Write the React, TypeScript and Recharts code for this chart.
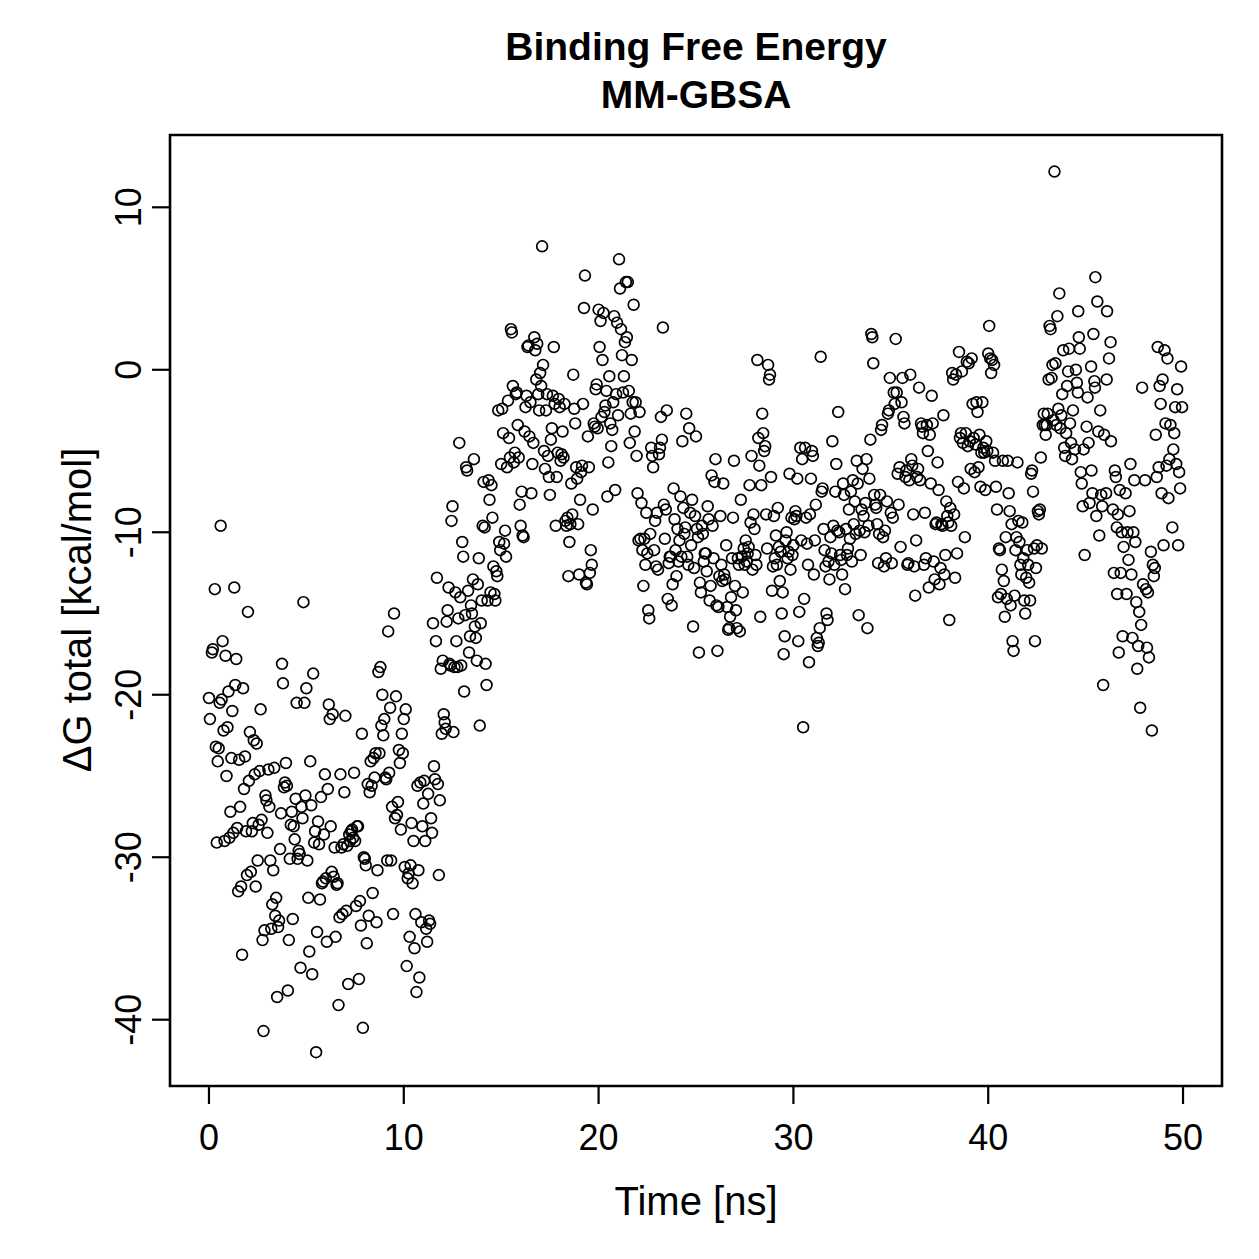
import React from 'react';
import { ScatterChart, Scatter, XAxis, YAxis, ReferenceArea } from 'recharts';

// Time [ns], ΔG total [kcal/mol]
const seg0to10: [number, number][] = [
[0,-20.2],[0.05,-21.5],[0.15,-17.4],[0.2,-17.2],[0.3,-13.5],[0.35,-23.2],[0.4,-29.1],[0.45,-24.1],[0.5,-23.3],[0.55,-20.5],[0.6,-9.6],[0.65,-20.3],[0.7,-16.7],[0.75,-22.2],[0.8,-29.0],[0.85,-17.6],[0.9,-25.0],[0.95,-22.0],
[1.0,-19.8],[1.05,-28.8],[1.1,-27.2],[1.15,-23.9],[1.2,-21.0],[1.25,-28.5],[1.3,-13.4],[1.35,-19.4],[1.4,-17.8],[1.45,-28.2],[1.5,-32.1],[1.55,-24.0],[1.6,-26.9],[1.65,-31.8],[1.7,-36.0],[1.75,-19.6],[1.8,-25.8],[1.85,-23.8],[1.9,-28.4],[1.95,-31.1],
[2.0,-14.9],[2.05,-25.3],[2.1,-22.3],[2.15,-30.9],[2.2,-28.4],[2.25,-27.9],[2.3,-22.8],[2.35,-24.9],[2.4,-31.8],[2.45,-23.0],[2.5,-30.2],[2.55,-28.0],[2.6,-24.7],[2.65,-20.9],[2.7,-27.7],[2.75,-35.1],[2.8,-40.7],[2.85,-34.5],[2.9,-26.2],[2.95,-26.5],
[3.0,-28.5],[3.05,-24.6],[3.1,-26.9],[3.15,-30.2],[3.2,-34.4],[3.25,-32.9],[3.3,-30.8],[3.35,-24.5],[3.4,-33.6],[3.45,-32.5],[3.5,-38.6],[3.55,-34.3],[3.6,-33.9],[3.65,-29.5],[3.7,-27.3],[3.75,-18.1],[3.8,-19.3],[3.85,-25.7],[3.9,-25.4],[3.95,-24.2],
[4.0,-25.6],[4.05,-38.2],[4.1,-35.1],[4.15,-30.1],[4.2,-28.0],[4.25,-27.2],[4.3,-33.8],[4.35,-28.1],[4.4,-28.9],[4.45,-26.4],[4.5,-20.5],[4.55,-30.1],[4.6,-29.6],[4.65,-29.8],[4.7,-36.8],[4.75,-26.9],[4.8,-27.6],[4.85,-14.3],[4.9,-20.5],[4.95,-26.2],
[5.0,-19.6],[5.05,-30.2],[5.1,-32.5],[5.15,-35.8],[5.2,-24.1],[5.25,-26.8],[5.3,-37.2],[5.35,-18.7],[5.4,-29.1],[5.45,-28.4],[5.5,-42.0],[5.55,-34.6],[5.6,-27.8],[5.65,-29.2],[5.7,-32.6],[5.75,-26.3],[5.8,-31.6],[5.85,-31.5],[5.9,-28.6],[5.95,-24.9],
[6.0,-31.3],[6.05,-35.2],[6.1,-25.8],[6.15,-20.6],[6.2,-21.5],[6.25,-28.1],[6.3,-30.9],[6.35,-21.2],[6.4,-31.2],[6.45,-29.4],[6.5,-34.9],[6.55,-31.7],[6.6,-31.6],[6.65,-39.1],[6.7,-33.7],[6.75,-24.9],[6.8,-29.4],[6.85,-33.5],[6.9,-29.2],[6.95,-26.0],
[7.0,-21.3],[7.05,-33.3],[7.1,-29.3],[7.15,-37.8],[7.2,-28.6],[7.25,-29.0],[7.3,-28.4],[7.35,-28.3],[7.4,-28.8],[7.45,-24.8],[7.5,-29.0],[7.55,-33.0],[7.6,-28.1],[7.65,-28.1],[7.7,-37.5],[7.75,-32.7],[7.8,-34.2],[7.85,-22.4],[7.9,-40.5],[7.95,-30.0],
[8.0,-30.1],[8.05,-30.5],[8.1,-35.3],[8.15,-25.5],[8.2,-33.6],[8.25,-26.0],[8.3,-24.1],[8.35,-25.6],[8.4,-32.2],[8.45,-23.9],[8.5,-25.1],[8.55,-23.6],[8.6,-34.0],[8.65,-30.8],[8.7,-18.6],[8.75,-23.6],[8.8,-18.3],[8.85,-21.9],[8.9,-20.0],[8.95,-22.5],
[9.0,-21.5],[9.05,-25.1],[9.1,-25.2],[9.15,-30.2],[9.2,-16.1],[9.25,-24.8],[9.3,-20.8],[9.35,-30.2],[9.4,-26.9],[9.45,-33.5],[9.5,-15.0],[9.55,-27.6],[9.6,-20.1],[9.65,-27.4],[9.7,-26.6],[9.75,-23.4],[9.8,-24.2],[9.85,-28.3],[9.9,-22.4],[9.95,-23.6],
];

const seg10to20: [number, number][] = [
[10.0,-21.5],[10.05,-30.6],[10.1,-20.9],[10.15,-36.7],[10.2,-31.3],[10.25,-31.0],[10.3,-34.9],[10.35,-30.5],[10.4,-27.9],[10.45,-31.6],[10.5,-29.0],[10.55,-35.6],[10.6,-33.5],[10.65,-38.3],[10.7,-25.6],[10.75,-30.8],[10.8,-37.4],[10.85,-25.4],[10.9,-34.0],[10.95,-28.1],
[11.0,-26.7],[11.05,-25.3],[11.1,-29.0],[11.15,-34.4],[11.2,-35.2],[11.25,-26.1],[11.3,-33.9],[11.35,-34.1],[11.4,-27.6],[11.45,-28.5],[11.5,-15.6],[11.55,-24.4],[11.6,-25.2],[11.65,-16.7],[11.7,-12.8],[11.75,-25.5],[11.8,-31.1],[11.85,-26.5],[11.9,-18.4],[11.95,-22.4],
[12.0,-17.9],[12.05,-21.2],[12.1,-21.7],[12.15,-22.1],[12.2,-15.5],[12.25,-14.8],[12.3,-13.4],[12.35,-18.1],[12.4,-18.2],[12.45,-9.3],[12.5,-8.4],[12.55,-22.3],[12.6,-18.3],[12.65,-13.7],[12.7,-16.7],[12.75,-18.3],[12.8,-15.3],[12.85,-4.5],[12.9,-14.0],[12.95,-18.2],
[13.0,-10.6],[13.05,-11.5],[13.1,-19.8],[13.15,-15.1],[13.2,-6.0],[13.25,-6.2],[13.3,-13.6],[13.35,-17.4],[13.4,-16.4],[13.45,-14.5],[13.5,-15.0],[13.55,-12.9],[13.6,-5.5],[13.65,-15.8],[13.7,-16.5],[13.75,-17.9],[13.8,-13.2],[13.85,-11.6],[13.9,-21.9],[13.95,-15.6],
[14.0,-14.2],[14.05,-9.6],[14.1,-6.9],[14.15,-9.7],[14.2,-18.1],[14.25,-19.4],[14.3,-14.2],[14.35,-6.8],[14.4,-8.0],[14.45,-13.7],[14.5,-7.1],[14.55,-9.1],[14.6,-12.1],[14.65,-13.8],[14.7,-14.2],[14.75,-12.4],[14.8,-12.7],[14.85,-2.5],[14.9,-10.6],[14.95,-11.1],
[15.0,-5.8],[15.05,-2.4],[15.1,-3.9],[15.15,-10.7],[15.2,-9.9],[15.25,-11.5],[15.3,-6.0],[15.35,-1.9],[15.4,-4.2],[15.45,-5.4],[15.5,2.5],[15.55,2.3],[15.6,-1.0],[15.65,-5.7],[15.7,-5.1],[15.75,-1.5],[15.8,-1.4],[15.85,-3.4],[15.9,-5.4],[15.95,-8.3],
[16.0,-9.6],[16.05,-7.5],[16.1,-10.2],[16.15,-10.3],[16.2,-3.8],[16.25,-2.3],[16.3,-1.6],[16.35,1.4],[16.4,1.5],[16.45,-4.1],[16.5,-2.0],[16.55,-7.6],[16.6,-5.8],[16.65,-4.5],[16.7,2.0],[16.75,1.2],[16.8,-0.6],[16.85,1.6],[16.9,-1.5],[16.95,-2.5],
[17.0,-0.2],[17.05,-1.0],[17.1,7.6],[17.15,0.3],[17.2,-5.0],[17.25,-6.1],[17.3,-2.5],[17.35,-1.5],[17.4,-5.3],[17.45,-6.6],[17.5,-7.7],[17.55,-4.3],[17.6,-3.6],[17.65,-1.6],[17.7,1.4],[17.75,-2.1],[17.8,-9.6],[17.85,-6.6],[17.9,-5.1],[17.95,-1.8],
[18.0,-2.3],[18.05,-5.6],[18.1,-5.2],[18.15,-3.8],[18.2,-5.4],[18.25,-2.1],[18.3,-9.3],[18.35,-9.6],[18.4,-9.1],[18.45,-12.7],[18.5,-10.6],[18.55,-9.5],[18.6,-7.0],[18.65,-8.9],[18.7,-0.3],[18.75,-2.4],[18.8,-3.3],[18.85,-6.0],[18.9,-6.7],[18.95,-9.5],
[19.0,-12.6],[19.05,-8.0],[19.1,-6.3],[19.15,-5.9],[19.2,-2.1],[19.25,3.8],[19.3,5.8],[19.35,-13.1],[19.4,-13.2],[19.45,-4.1],[19.5,-6.0],[19.55,-12.5],[19.6,-11.1],[19.65,-12.0],[19.7,-8.6],[19.75,-3.3],[19.8,-3.5],[19.85,-1.2],[19.9,-0.9],[19.95,-3.6],
];

const seg20to30: [number, number][] = [
[20.0,3.7],[20.05,1.4],[20.1,3.0],[20.15,-2.9],[20.2,0.6],[20.25,3.5],[20.3,-2.6],[20.35,-2.2],[20.4,-1.3],[20.45,-7.8],[20.5,-5.7],[20.55,-0.4],[20.6,-3.3],[20.65,-4.7],[20.7,-3.7],[20.75,-2.0],[20.8,3.3],[20.85,-7.4],[20.9,-1.5],[20.95,2.9],
[21.0,-2.8],[21.05,6.8],[21.1,5.0],[21.15,2.5],[21.2,0.9],[21.25,-1.4],[21.3,-0.4],[21.35,1.7],[21.4,5.4],[21.45,2.0],[21.5,5.4],[21.55,-1.3],[21.6,-4.5],[21.65,-2.7],[21.7,0.6],[21.75,-2.0],[21.8,4.0],[21.85,-3.8],[21.9,-2.0],[21.95,-5.3],
[22.0,-7.6],[22.05,-10.5],[22.1,-2.6],[22.15,-10.4],[22.2,-8.2],[22.25,-11.1],[22.3,-13.3],[22.35,-10.4],[22.4,-12.0],[22.45,-8.8],[22.5,-11.3],[22.55,-14.8],[22.6,-15.3],[22.65,-10.1],[22.7,-4.8],[22.75,-5.3],[22.8,-6.0],[22.85,-11.1],[22.9,-9.3],[22.95,-12.1],
[23.0,-8.8],[23.05,-12.3],[23.1,-5.2],[23.15,-4.8],[23.2,-2.9],[23.25,-4.3],[23.3,2.6],[23.35,-8.3],[23.4,-10.4],[23.45,-8.6],[23.5,-2.5],[23.55,-14.1],[23.6,-11.9],[23.65,-11.5],[23.7,-11.5],[23.75,-14.5],[23.8,-13.2],[23.85,-7.3],[23.9,-9.2],[23.95,-11.1],
[24.0,-12.7],[24.05,-9.8],[24.1,-11.8],[24.15,-10.5],[24.2,-7.8],[24.25,-11.5],[24.3,-4.4],[24.35,-8.5],[24.4,-10.1],[24.45,-9.7],[24.5,-2.7],[24.55,-11.5],[24.6,-12.0],[24.65,-3.6],[24.7,-8.8],[24.75,-10.8],[24.8,-8.0],[24.85,-15.8],[24.9,-12.2],[24.95,-9.0],
[25.0,-4.1],[25.05,-9.8],[25.1,-10.3],[25.15,-17.4],[25.2,-13.1],[25.25,-13.7],[25.3,-9.6],[25.35,-10.1],[25.4,-11.8],[25.45,-11.3],[25.5,-11.3],[25.55,-12.4],[25.6,-8.4],[25.65,-9.2],[25.7,-14.2],[25.75,-13.3],[25.8,-6.5],[25.85,-9.6],[25.9,-11.6],[25.95,-6.9],
[26.0,-5.5],[26.05,-14.5],[26.1,-17.3],[26.15,-14.6],[26.2,-12.7],[26.25,-9.0],[26.3,-12.0],[26.35,-13.0],[26.4,-7.0],[26.45,-12.6],[26.5,-12.9],[26.55,-10.8],[26.6,-14.6],[26.65,-16.0],[26.7,-15.9],[26.75,-15.2],[26.8,-14.0],[26.85,-11.6],[26.9,-9.1],[26.95,-5.6],
[27.0,-13.3],[27.05,-14.8],[27.1,-15.9],[27.15,-11.6],[27.2,-12.0],[27.25,-16.1],[27.3,-8.0],[27.35,-11.5],[27.4,-13.7],[27.45,-11.0],[27.5,-12.0],[27.55,-10.5],[27.6,-11.8],[27.65,-11.3],[27.7,-10.9],[27.75,-7.1],[27.8,-9.4],[27.85,-5.3],[27.9,-12.3],[27.95,-8.9],
[28.0,-9.8],[28.05,-11.4],[28.1,-12.0],[28.15,0.6],[28.2,-4.2],[28.25,-5.9],[28.3,-15.2],[28.35,-7.1],[28.4,-2.7],[28.45,-3.9],[28.5,-5.0],[28.55,-4.7],[28.6,-8.9],[28.65,-11.0],[28.7,0.3],[28.75,-0.6],[28.8,-0.3],[28.85,-6.6],[28.9,-13.6],[28.95,-12.1],
[29.0,-9.0],[29.05,-11.6],[29.1,-10.2],[29.15,-12.0],[29.2,-8.5],[29.25,-10.9],[29.3,-13.0],[29.35,-11.2],[29.4,-15.0],[29.45,-13.7],[29.5,-17.5],[29.55,-16.4],[29.6,-10.5],[29.65,-10.0],[29.7,-11.6],[29.75,-11.2],[29.8,-6.4],[29.85,-12.3],[29.9,-9.1],[29.95,-11.4],
];

const seg30to40: [number, number][] = [
[30.0,-10.8],[30.05,-9.2],[30.1,-8.7],[30.15,-9.0],[30.2,-6.7],[30.25,-16.7],[30.3,-14.9],[30.35,-4.8],[30.4,-10.5],[30.45,-5.5],[30.5,-22.0],[30.55,-14.1],[30.6,-4.8],[30.65,-9.1],[30.7,-10.7],[30.75,-12.0],[30.8,-18.0],[30.85,-8.9],[30.9,-6.7],[30.95,-5.0],
[31.0,-5.3],[31.05,-12.6],[31.1,-10.5],[31.15,-8.3],[31.2,-16.5],[31.25,-17.0],[31.3,-16.8],[31.35,-15.9],[31.4,0.8],[31.45,-7.5],[31.5,-7.3],[31.55,-9.8],[31.6,-11.1],[31.65,-12.1],[31.7,-15.0],[31.75,-15.4],[31.8,-11.8],[31.85,-12.9],[31.9,-10.3],[31.95,-11.3],
[32.0,-4.4],[32.05,-9.6],[32.1,-12.0],[32.15,-7.5],[32.2,-5.8],[32.25,-9.9],[32.3,-2.6],[32.35,-10.0],[32.4,-11.4],[32.45,-11.7],[32.5,-12.6],[32.55,-7.0],[32.6,-7.7],[32.65,-13.5],[32.7,-9.8],[32.75,-11.4],[32.8,-11.0],[32.85,-8.6],[32.9,-10.4],[32.95,-7.5],
[33.0,-11.8],[33.05,-6.8],[33.1,-9.5],[33.15,-8.1],[33.2,-10.1],[33.25,-5.6],[33.3,-7.0],[33.35,-15.1],[33.4,-9.9],[33.45,-11.4],[33.5,-8.6],[33.55,-6.1],[33.6,-9.0],[33.65,-10.0],[33.7,-8.2],[33.75,-5.5],[33.8,-15.9],[33.85,-9.6],[33.9,-6.7],[33.95,-4.3],
[34.0,2.2],[34.05,2.0],[34.1,0.4],[34.15,-7.7],[34.2,-8.3],[34.25,-8.5],[34.3,-9.5],[34.35,-11.9],[34.4,-10.1],[34.45,-7.7],[34.5,-3.7],[34.55,-3.4],[34.6,-10.3],[34.65,-12.1],[34.7,-9.9],[34.75,-11.6],[34.8,-8.1],[34.85,-2.7],[34.9,-2.5],[34.95,-0.5],
[35.0,-8.8],[35.05,-11.9],[35.1,-9.1],[35.15,-1.4],[35.2,-2.1],[35.25,1.9],[35.3,-1.4],[35.35,-6.4],[35.4,-8.3],[35.45,-6.0],[35.5,-10.9],[35.55,-2.0],[35.6,-0.5],[35.65,-2.9],[35.7,-3.3],[35.75,-6.6],[35.8,-6.2],[35.85,-12.0],[35.9,-11.9],[35.95,-6.8],
[36.0,-0.3],[36.05,-5.5],[36.1,-5.9],[36.15,-8.9],[36.2,-12.1],[36.25,-13.9],[36.3,-10.5],[36.35,-6.6],[36.4,-6.1],[36.45,-1.1],[36.5,-6.8],[36.55,-3.3],[36.6,-3.5],[36.65,-3.9],[36.7,-12.0],[36.75,-8.8],[36.8,-11.6],[36.85,-3.4],[36.9,-5.0],[36.95,-13.4],
[37.0,-4.0],[37.05,-7.0],[37.1,-1.6],[37.15,-3.3],[37.2,-11.8],[37.25,-12.9],[37.3,-9.5],[37.35,-9.4],[37.4,-5.7],[37.45,-7.4],[37.5,-13.2],[37.55,-12.2],[37.6,-9.5],[37.65,-9.6],[37.7,-2.8],[37.75,-12.6],[37.8,-11.4],[37.85,-8.1],[37.9,-9.0],[37.95,-9.4],
[38.0,-15.4],[38.05,-8.5],[38.1,-9.6],[38.15,-0.2],[38.2,-0.6],[38.25,-8.9],[38.3,-12.8],[38.35,-0.3],[38.4,-11.3],[38.45,-6.9],[38.5,1.1],[38.55,-4.2],[38.6,-3.9],[38.65,-0.1],[38.7,-4.5],[38.75,-7.3],[38.8,-10.3],[38.85,-3.9],[38.9,0.5],[38.95,-4.7],
[39.0,0.4],[39.05,-4.4],[39.1,-6.1],[39.15,0.7],[39.2,-2.1],[39.25,-4.2],[39.3,-6.3],[39.35,-4.6],[39.4,-2.0],[39.45,-2.6],[39.5,-6.0],[39.55,-4.0],[39.6,-7.2],[39.65,-5.1],[39.7,-2.0],[39.75,-4.8],[39.8,-5.1],[39.85,-7.4],[39.9,-4.4],[39.95,-5.0],
];

const seg40to50: [number, number][] = [
[40.0,1.0],[40.05,2.7],[40.1,0.7],[40.15,-0.2],[40.2,0.6],[40.25,-5.1],[40.3,0.3],[40.35,-5.6],[40.4,-7.2],[40.45,-8.6],[40.5,-14.0],[40.55,-11.0],[40.6,-11.1],[40.65,-13.8],[40.7,-12.3],[40.75,-5.6],[40.8,-13.0],[40.85,-15.2],[40.9,-10.3],[40.95,-14.1],
[41.0,-5.6],[41.05,-7.6],[41.1,-8.7],[41.15,-14.5],[41.2,-9.5],[41.25,-16.7],[41.3,-17.3],[41.35,-13.9],[41.4,-11.1],[41.45,-10.3],[41.5,-5.7],[41.55,-9.3],[41.6,-10.6],[41.65,-12.0],[41.7,-12.6],[41.75,-9.4],[41.8,-11.6],[41.85,-14.2],[41.9,-15.0],[41.95,-12.8],
[42.0,-11.1],[42.05,-12.0],[42.1,-13.1],[42.15,-14.2],[42.2,-6.4],[42.25,-6.2],[42.3,-7.5],[42.35,-11.0],[42.4,-16.7],[42.45,-12.2],[42.5,-10.8],[42.55,-8.7],[42.6,-8.9],[42.65,-8.6],[42.7,-5.4],[42.75,-11.0],[42.8,-3.4],[42.85,-2.7],[42.9,-3.4],[42.95,-4.0],
[43.0,-3.4],[43.05,-2.7],[43.1,-0.6],[43.15,2.7],[43.2,2.5],[43.25,-0.5],[43.3,0.3],[43.35,-3.1],[43.4,12.2],[43.45,0.4],[43.5,-3.4],[43.55,3.3],[43.6,-2.4],[43.65,4.7],[43.7,-3.6],[43.75,-2.8],[43.8,-1.5],[43.85,1.2],[43.9,-4.8],[43.95,-5.3],
[44.0,-3.9],[44.05,-1.0],[44.1,-0.1],[44.15,1.3],[44.2,-3.3],[44.25,-4.5],[44.3,-5.5],[44.35,-2.5],[44.45,-4.9],[44.5,0.0],[44.55,-0.8],[44.6,-1.4],[44.62,3.6],[44.65,2.0],[44.7,1.3],[44.75,-6.3],[44.8,-7.0],[44.85,-8.4],[44.9,-4.9],[44.95,-11.4],
[45.05,-3.5],[45.1,-1.7],[45.15,-4.5],[45.2,-8.2],[45.28,0.2],[45.3,-6.2],[45.35,-7.6],[45.4,2.2],[45.45,-0.7],[45.48,-1.1],[45.5,5.7],[45.55,-9.0],[45.6,4.2],[45.65,-3.8],[45.7,-10.2],[45.75,-2.5],[45.8,-7.7],[45.85,-8.4],[45.9,-19.4],[45.95,-4.0],
[46.05,-7.6],[46.08,-0.6],[46.1,3.6],[46.2,0.7],[46.28,1.7],[46.3,-4.4],[46.4,-8.6],[46.45,-12.5],[46.5,-6.2],[46.55,-6.6],[46.6,-9.7],[46.62,-13.8],[46.65,-8.9],[46.7,-17.4],[46.75,-7.4],[46.8,-12.5],[46.85,-10.0],[46.9,-16.4],[46.95,-10.9],
[47.05,-7.6],[47.1,-13.8],[47.15,-10.0],[47.2,-11.7],[47.25,-8.7],[47.3,-5.8],[47.35,-12.6],[47.4,-16.5],[47.45,-10.0],[47.5,-6.8],[47.55,-10.6],[47.6,-14.3],[47.65,-18.4],[47.7,-17.0],[47.75,-14.9],[47.8,-20.8],[47.85,-15.7],[47.9,-1.1],[47.95,-13.2],
[48.05,-6.8],[48.1,-13.5],[48.15,-17.1],[48.2,-13.7],[48.25,-17.7],[48.35,-11.2],[48.4,-22.2],[48.45,-12.0],[48.5,-12.7],[48.55,-12.2],[48.6,-4.0],[48.65,-6.6],[48.7,1.4],[48.75,-6.0],[48.8,-1.0],[48.85,-2.1],[48.9,-7.6],[48.95,-0.6],
[49.0,-10.8],[49.05,1.2],[49.1,-3.3],[49.15,-5.9],[49.2,0.7],[49.25,-7.9],[49.3,-5.5],[49.35,-3.4],[49.45,-9.7],[49.5,-4.9],[49.55,-3.9],[49.6,-2.3],[49.65,-5.8],[49.7,-1.2],[49.75,-10.8],[49.8,-6.3],[49.85,-7.3],[49.9,0.2],[49.95,-2.3],
];

const xTicks = [0, 10, 20, 30, 40, 50];
const yTicks = [-40, -30, -20, -10, 0, 10];
const titleLines = ['Binding Free Energy', 'MM-GBSA'];
const xLabel = 'Time [ns]';
const yLabel = 'ΔG total [kcal/mol]';

const FONT = '"Liberation Sans", Arial, Helvetica, sans-serif';
const W = 1259;
const H = 1259;
const X_DOMAIN: [number, number] = [-2, 52];
const Y_DOMAIN: [number, number] = [-44.08, 14.45];

const XTick = (props: any) => {
  const { x, y, payload } = props;
  return (
    <text x={x} y={y} dy={44} textAnchor="middle" fontSize={36} fontFamily={FONT} fill="#000">
      {payload.value}
    </text>
  );
};

const YTick = (props: any) => {
  const { x, y, payload } = props;
  const bx = x - 9;
  return (
    <text x={bx} y={y} transform={`rotate(-90 ${bx} ${y})`} textAnchor="middle" fontSize={36} fontFamily={FONT} fill="#000">
      {payload.value}
    </text>
  );
};

const Ring = (props: any) => {
  const { cx, cy } = props;
  if (cx == null || cy == null) return null;
  return <circle cx={cx} cy={cy} r={5.4} fill="none" stroke="#000" strokeWidth={1.7} />;
};

export default function App() {
  const data = [...seg0to10, ...seg10to20, ...seg20to30, ...seg30to40, ...seg40to50].map(([t, g]) => ({ t, g }));
  return (
    <div style={{ position: 'absolute', left: 0, top: 0, width: W, height: H, background: '#fff' }}>
      <ScatterChart width={W} height={H} margin={{ top: 135, right: 37, bottom: 0, left: 0 }}>
        <XAxis
          type="number"
          dataKey="t"
          domain={X_DOMAIN}
          ticks={xTicks}
          interval={0}
          allowDataOverflow
          height={173}
          tickSize={18}
          axisLine={false}
          tickLine={{ stroke: '#000', strokeWidth: 2.2 }}
          tick={<XTick />}
        />
        <YAxis
          type="number"
          dataKey="g"
          domain={Y_DOMAIN}
          ticks={yTicks}
          interval={0}
          allowDataOverflow
          width={170}
          tickSize={18}
          axisLine={false}
          tickLine={{ stroke: '#000', strokeWidth: 2.2 }}
          tick={<YTick />}
        />
        <ReferenceArea x1={X_DOMAIN[0]} x2={X_DOMAIN[1]} y1={Y_DOMAIN[0]} y2={Y_DOMAIN[1]} fill="none" fillOpacity={0} stroke="#000" strokeWidth={2.6} ifOverflow="visible" />
        <Scatter data={data} shape={<Ring />} isAnimationActive={false} />
      </ScatterChart>
      <svg width={W} height={H} style={{ position: 'absolute', left: 0, top: 0, pointerEvents: 'none' }}>
        <text x={696} y={60} textAnchor="middle" fontSize={39} fontWeight="bold" fontFamily={FONT} fill="#000">{titleLines[0]}</text>
        <text x={696} y={108} textAnchor="middle" fontSize={39} fontWeight="bold" fontFamily={FONT} fill="#000">{titleLines[1]}</text>
        <text x={696} y={1215} textAnchor="middle" fontSize={40} fontFamily={FONT} fill="#000">{xLabel}</text>
        <text x={91} y={610} transform="rotate(-90 91 610)" textAnchor="middle" fontSize={40} fontFamily={FONT} fill="#000">{yLabel}</text>
      </svg>
    </div>
  );
}
